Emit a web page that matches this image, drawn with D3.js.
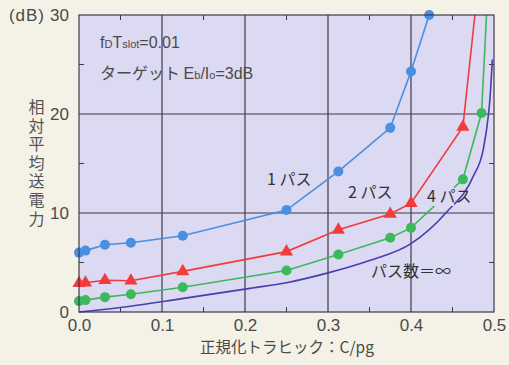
<!DOCTYPE html>
<html><head><meta charset="utf-8">
<script src="https://cdn.jsdelivr.net/npm/d3@7/dist/d3.min.js"></script>
<style>
html,body{margin:0;padding:0;background:#f4f1e6;}
svg{display:block;}
text{font-family:"Liberation Sans",Arial,"Noto Sans CJK JP",sans-serif;}
.jp{font-family:"Noto Sans CJK JP","Liberation Sans",sans-serif;}
</style></head>
<body>
<svg id="c" width="509" height="365"></svg>
<script>
// ---- data ----
const xTicks = [0.0, 0.1, 0.2, 0.3, 0.4, 0.5];
const yTicks = [0, 10, 20, 30];
const xMinor = [0.05, 0.15, 0.25, 0.35, 0.45];
const yMinor = [5, 15, 25];

const pathX = [0, 0.0078, 0.03125, 0.0625, 0.125, 0.25, 0.3125, 0.375, 0.4];
const path1X = pathX.concat([0.4219]);
const path1Y = [6.0, 6.2, 6.8, 7.0, 7.7, 10.3, 14.2, 18.6, 24.3, 30.0];
const path2X = pathX.concat([0.4625]);
const path2Y = [2.9, 2.95, 3.2, 3.15, 4.1, 6.1, 8.3, 9.9, 11.0, 18.7];
const path2TailX = [0.4625, 0.477];
const path2TailY = [18.7, 30.0];
const path4X = pathX.concat([0.4625, 0.485]);
const path4Y = [1.1, 1.2, 1.5, 1.8, 2.5, 4.2, 5.8, 7.5, 8.5, 13.4, 20.1];
const path4TailX = [0.485, 0.491];
const path4TailY = [20.1, 30.0];
const pathInfX = [0, 0.05, 0.126, 0.206, 0.25, 0.3, 0.35, 0.4, 0.443, 0.475, 0.487, 0.493, 0.495, 0.498];
const pathInfY = [0, 0.45, 1.38, 2.39, 2.96, 3.95, 5.2, 6.9, 10.1, 13.7, 16.4, 19.7, 21.4, 25.5];

const zip = (xs, ys) => xs.map((x, i) => [x, ys[i]]);

// ---- layout ----
const svg = d3.select("#c");
const L = 79, T = 15, R = 494, B = 312;
const x = d3.scaleLinear().domain([0, 0.5]).range([L, R]);
const y = d3.scaleLinear().domain([0, 30]).range([B, T]);
const gridCol = "#3c3a48", txtCol = "#4a4a4a";

svg.append("rect").attr("x", L).attr("y", T).attr("width", R - L).attr("height", B - T).attr("fill", "#dcd9f2");

// grid
const g = svg.append("g");
g.selectAll(".gx").data(xTicks.slice(1, -1)).join("line")
  .attr("x1", d => x(d)).attr("x2", d => x(d)).attr("y1", T).attr("y2", B)
  .attr("stroke", gridCol).attr("stroke-width", 1.2);
g.selectAll(".gy").data(yTicks.slice(1, -1)).join("line")
  .attr("y1", d => y(d)).attr("y2", d => y(d)).attr("x1", L).attr("x2", R)
  .attr("stroke", gridCol).attr("stroke-width", 1.2);

// minor ticks (inward)
const tk = 5;
xMinor.forEach(v => {
  g.append("line").attr("x1", x(v)).attr("x2", x(v)).attr("y1", B).attr("y2", B - tk).attr("stroke", gridCol);
  g.append("line").attr("x1", x(v)).attr("x2", x(v)).attr("y1", T).attr("y2", T + tk).attr("stroke", gridCol);
});
yMinor.forEach(v => {
  g.append("line").attr("y1", y(v)).attr("y2", y(v)).attr("x1", L).attr("x2", L + tk).attr("stroke", gridCol);
  g.append("line").attr("y1", y(v)).attr("y2", y(v)).attr("x1", R).attr("x2", R - tk).attr("stroke", gridCol);
});

// axes tick labels via d3 axes
const xAxis = d3.axisBottom(x).tickValues(xTicks).tickFormat(d3.format(".1f")).tickSize(0).tickPadding(7);
const xa = svg.append("g").attr("transform", `translate(0,${B})`).call(xAxis);
xa.select(".domain").remove();
xa.selectAll("text").attr("font-size", 17).attr("fill", txtCol).attr("font-family", "Liberation Sans, Arial, sans-serif");

const yAxis = d3.axisLeft(y).tickValues(yTicks).tickFormat(d3.format("d")).tickSize(0).tickPadding(10);
const ya = svg.append("g").attr("transform", `translate(${L},0)`).call(yAxis);
ya.select(".domain").remove();
ya.selectAll("text").attr("font-size", 17).attr("fill", txtCol).attr("font-family", "Liberation Sans, Arial, sans-serif");

// lines
const line = d3.line().x(d => x(d[0])).y(d => y(d[1]));
const curve = d3.line().x(d => x(d[0])).y(d => y(d[1])).curve(d3.curveMonotoneX);
const plot = svg.append("g");

const cBlue = "#4a8fe0", cRed = "#f03c3c", cGreen = "#3db85c", cPur = "#4b3cb0";

plot.append("path").datum(zip(pathInfX, pathInfY)).attr("d", curve)
  .attr("fill", "none").attr("stroke", cPur).attr("stroke-width", 1.6);
plot.append("path").datum(zip(path4X, path4Y).concat(zip(path4TailX, path4TailY).slice(1))).attr("d", line)
  .attr("fill", "none").attr("stroke", cGreen).attr("stroke-width", 1.6);
plot.append("path").datum(zip(path2X, path2Y).concat(zip(path2TailX, path2TailY).slice(1))).attr("d", line)
  .attr("fill", "none").attr("stroke", cRed).attr("stroke-width", 1.6);
plot.append("path").datum(zip(path1X, path1Y)).attr("d", line)
  .attr("fill", "none").attr("stroke", cBlue).attr("stroke-width", 1.6);

// label background for 4 パス (covers green line)
plot.append("rect").attr("x", 430).attr("y", 187).attr("width", 24).attr("height", 19).attr("fill", "#dcd9f2");

// markers
plot.selectAll(".m4").data(zip(path4X, path4Y)).join("circle")
  .attr("cx", d => x(d[0])).attr("cy", d => y(d[1])).attr("r", 5).attr("fill", cGreen);
plot.selectAll(".m2").data(zip(path2X, path2Y)).join("path")
  .attr("transform", d => `translate(${x(d[0])},${y(d[1])})`)
  .attr("d", d3.symbol().type(d3.symbolTriangle).size(75)).attr("fill", cRed);
plot.selectAll(".m1").data(zip(path1X, path1Y)).join("circle")
  .attr("cx", d => x(d[0])).attr("cy", d => y(d[1])).attr("r", 5).attr("fill", cBlue);

// frame
svg.append("rect").attr("x", L).attr("y", T).attr("width", R - L).attr("height", B - T)
  .attr("fill", "none").attr("stroke", gridCol).attr("stroke-width", 1.2);

// texts
svg.append("text").attr("x", 45).attr("y", 21).attr("text-anchor", "end").attr("font-size", 17)
  .attr("fill", txtCol).attr("letter-spacing", 1).text("(dB)");

svg.append("text").attr("class", "jp").attr("x", 36.5).attr("y", 99)
  .attr("writing-mode", "vertical-rl").attr("letter-spacing", 2.6)
  .attr("font-size", 16).attr("fill", "#555").text("相対平均送電力");

svg.append("text").attr("class", "jp").attr("x", 287).attr("y", 353).attr("text-anchor", "middle")
  .attr("font-size", 15.5).attr("fill", txtCol).text("正規化トラヒック：C/pg");

const a1 = svg.append("text").attr("x", 100).attr("y", 48).attr("font-size", 16).attr("fill", txtCol);
a1.append("tspan").text("f");
a1.append("tspan").attr("font-size", 11).text("D");
a1.append("tspan").text("T");
a1.append("tspan").attr("font-size", 11).text("slot");
a1.append("tspan").text("=0.01");

const a2 = svg.append("text").attr("class", "jp").attr("x", 100).attr("y", 79).attr("font-size", 16).attr("fill", txtCol);
a2.append("tspan").text("ターゲット ");
a2.append("tspan").attr("font-family", "Liberation Sans, Arial, sans-serif").text("E");
a2.append("tspan").attr("font-family", "Liberation Sans, Arial, sans-serif").attr("font-size", 11).text("b");
a2.append("tspan").attr("font-family", "Liberation Sans, Arial, sans-serif").text("/I");
a2.append("tspan").attr("font-family", "Liberation Sans, Arial, sans-serif").attr("font-size", 11).text("o");
a2.append("tspan").attr("font-family", "Liberation Sans, Arial, sans-serif").text("=3dB");

const labs = [
  {t: "1 パス", x: 267, y: 185},
  {t: "2 パス", x: 348, y: 198},
  {t: "4 パス", x: 427, y: 202},
  {t: "パス数＝∞", x: 371, y: 277}
];
svg.selectAll(".lab").data(labs).join("text").attr("class", "jp")
  .attr("x", d => d.x).attr("y", d => d.y).attr("font-size", 16).attr("fill", "#333").text(d => d.t);
</script>
</body></html>
